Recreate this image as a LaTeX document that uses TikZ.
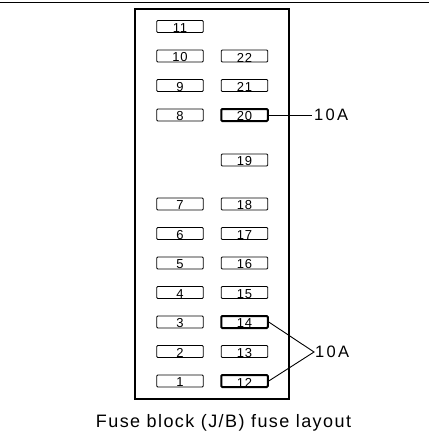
\documentclass[tikz,border=0pt]{standalone}
\usepackage{fontspec}
\setmainfont[LetterSpace=8]{Liberation Sans}
\newfontfamily\ampfont[LetterSpace=14]{Liberation Sans}
\newfontfamily\numfont[LetterSpace=6]{Liberation Sans}
\begin{document}
\begin{tikzpicture}[x=1pt,y=-1pt,
  fuse/.style={draw,rounded corners=1pt,minimum width=46.5pt,minimum height=12pt,inner sep=0pt,line width=0.9pt},
  hotfuse/.style={fuse,line width=2pt},
  num/.style={anchor=center,inner sep=0pt,font=\numfont\fontsize{13}{13}\selectfont},
  amp/.style={anchor=west,inner sep=2pt,font=\ampfont\fontsize{16.5}{16}\selectfont}]
  \useasboundingbox (0,0) rectangle (429,436);
  % 上边线和外框
  \draw[line width=1.5pt] (0,2.5) -- (429,2.5);
  \draw[line width=1.1pt] (135,9) rectangle (289,399);
  % 左列
  \foreach \n/\y in {11/26.5,10/56,9/85.5,8/115,7/204,6/233.5,5/263,4/292.5,3/322,2/351.5,1/381}{
    \node[fuse] (f\n) at (180,\y) {};
    \node[num] (n\n) at ([yshift=-1.5pt]f\n.center) {\n};
  }
  % 右列
  \foreach \n/\y/\s in {22/56/fuse,21/85.5/fuse,20/115/hotfuse,19/160/fuse,18/204/fuse,17/233.5/fuse,
      16/263/fuse,15/292.5/fuse,14/322/hotfuse,13/351.5/fuse,12/381/hotfuse}{
    \node[\s] (f\n) at (244.5,\y) {};
    \node[num] (n\n) at ([yshift=-1.5pt]f\n.center) {\n};
  }
  % 10A
  \node[amp] (ampA) at (312,115) {10A};
  \draw[line width=0.9pt] (f20.east) -- (ampA.west);
  \node[amp,inner sep=1pt] (ampB) at (314,352) {10A};
  \draw[line width=0.9pt] (f14.east) -- (ampB.west) -- (f12.east);
  % 标题
  \node[font=\fontsize{18}{20}\selectfont] (title) at (223.5,423) {Fuse block (J/B) fuse layout};
\end{tikzpicture}
\end{document}
